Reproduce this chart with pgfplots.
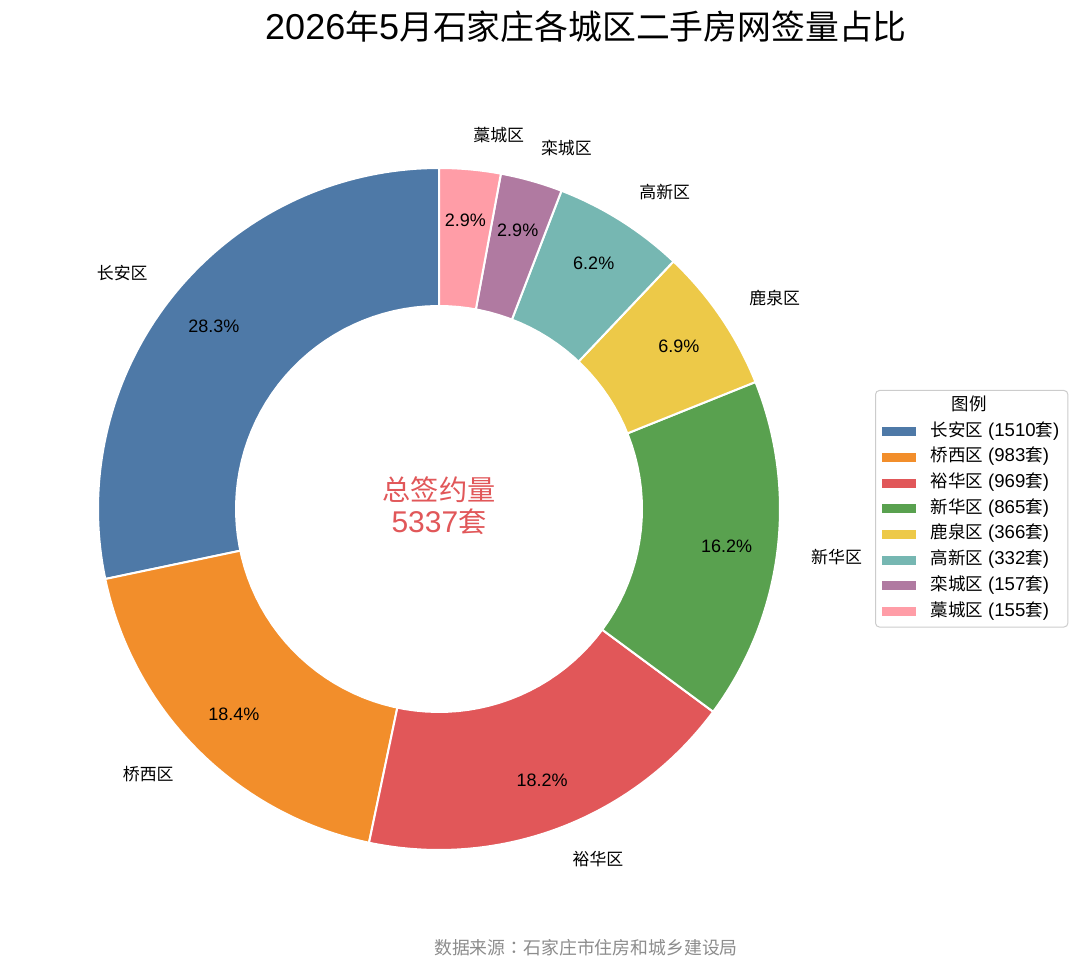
\documentclass[border=0pt]{standalone}
\usepackage{fontspec}
\setmainfont{Liberation Sans}
\newfontfamily\cjk{Noto Sans CJK SC}[Scale=0.94]
\newfontfamily\cjktc{Noto Sans CJK TC}[Scale=0.94]
\usepackage{pgfplots}
\usepackage{pgfplotstable}
\pgfplotsset{compat=1.18}

\definecolor{c0}{HTML}{4E79A7}
\definecolor{c1}{HTML}{F28E2B}
\definecolor{c2}{HTML}{E15759}
\definecolor{c3}{HTML}{59A14F}
\definecolor{c4}{HTML}{EDC948}
\definecolor{c5}{HTML}{76B7B2}
\definecolor{c6}{HTML}{B07AA1}
\definecolor{c7}{HTML}{FF9DA7}
\definecolor{legframe}{HTML}{CCCCCC}
\definecolor{srcgray}{HTML}{8C8C8C}

\pgfplotstableread[col sep=comma]{
name,value
长安区,1510
桥西区,983
裕华区,969
新华区,865
鹿泉区,366
高新区,332
栾城区,157
藁城区,155
}\districts

% ---- total
\gdef\total{0}
\foreach \i in {0,...,7}{%
  \pgfplotstablegetelem{\i}{value}\of\districts
  \pgfmathsetmacro\tmp{\total+\pgfplotsretval}%
  \xdef\total{\tmp}%
}
\pgfmathtruncatemacro\totalint{\total}
% ---- angles (start at 90 deg, counter-clockwise)
\gdef\cum{0}
\foreach \i in {0,...,7}{%
  \pgfplotstablegetelem{\i}{name}\of\districts
  \expandafter\xdef\csname nm\i\endcsname{\pgfplotsretval}%
  \pgfplotstablegetelem{\i}{value}\of\districts
  \expandafter\xdef\csname vv\i\endcsname{\pgfplotsretval}%
  \let\v\pgfplotsretval
  \pgfmathsetmacro\fS{\cum/\total}%
  \pgfmathsetmacro\fV{\v/\total}%
  \pgfmathsetmacro\aS{90+360*\fS}%
  \pgfmathsetmacro\aE{90+360*(\fS+\fV)}%
  \pgfmathsetmacro\aM{(\aS+\aE)/2}%
  \pgfmathsetmacro\pct{100*\fV}%
  \pgfmathsetmacro\newcum{\cum+\v}%
  \xdef\cum{\newcum}%
  \expandafter\xdef\csname aS\i\endcsname{\aS}%
  \expandafter\xdef\csname aE\i\endcsname{\aE}%
  \expandafter\xdef\csname aM\i\endcsname{\aM}%
  \expandafter\xdef\csname pv\i\endcsname{\pct}%
  \pgfmathtruncatemacro\side{cos(\aM)>0}%
  \ifnum\side=1
    \expandafter\xdef\csname anc\i\endcsname{west}%
  \else
    \expandafter\xdef\csname anc\i\endcsname{east}%
  \fi
}

\newcommand\basefont{\fontsize{18}{21}\selectfont}

\begin{document}
\begin{tikzpicture}
\begin{axis}[
  width=1080pt, height=972pt, scale only axis,
  xmin=0, xmax=1080, ymin=0, ymax=972,
  hide axis, clip=false,
  legend cell align=left,
  legend image code/.code={\fill[#1, draw=none, sharp corners] (0pt,-4.5pt) rectangle (34pt,4.5pt);},
  legend style={
    at={(0.8102,0.5988)}, anchor=north west,
    draw=legframe, line width=1pt, rounded corners=4pt,
    font=\fontsize{18.6}{21}\selectfont,
    inner xsep=6.5pt, inner ysep=5pt,
    row sep=4.7pt, column sep=12.5pt,
    nodes={inner sep=2pt, text height=13pt, text depth=4pt},
  },
]
% the picture area (1080 x 972)
\path (axis cs:0,0) rectangle (axis cs:1080,972);

\addlegendimage{empty legend}
\addlegendentry{\hspace{21pt}{\cjk 图例}}

\pgfplotsinvokeforeach{0,...,7}{
  \addplot[fill=c#1, draw=white, line width=2pt, line join=round, domain=0:1, samples=80]
    ({439+341*cos(\csname aS#1\endcsname+(\csname aE#1\endcsname-\csname aS#1\endcsname)*x)},
     {463+341*sin(\csname aS#1\endcsname+(\csname aE#1\endcsname-\csname aS#1\endcsname)*x)})
    -- (axis cs:439,463) -- cycle;
  \addlegendentry{{\cjk\csname nm#1\endcsname} (\csname vv#1\endcsname{\cjk 套})}
}

% inner hole of the donut
\addplot[forget plot, fill=white, draw=none, domain=0:360, samples=120]
  ({439+204*cos(x)},{463+204*sin(x)}) -- cycle;

\pgfplotsinvokeforeach{0,...,7}{
  \node[anchor=\csname anc#1\endcsname, font=\basefont\cjk, inner sep=0pt]
    at (axis cs:{439+375.1*cos(\csname aM#1\endcsname)},{463+375.1*sin(\csname aM#1\endcsname)})
    {\csname nm#1\endcsname};
  \node[font=\basefont, inner sep=0pt]
    at (axis cs:{439+290*cos(\csname aM#1\endcsname)},{463+290*sin(\csname aM#1\endcsname)})
    {\pgfmathprintnumber[fixed,fixed zerofill,precision=1,assume math mode=true]{\csname pv#1\endcsname}\%};
}

\node[align=center, text=c2, font=\fontsize{30}{32}\selectfont] at (axis cs:439,466)
  {{\cjk 总签约量}\\\totalint{\cjk 套}};

\node[font=\fontsize{36}{40}\selectfont] at (axis cs:586,945)
  {2026{\cjk 年}5{\cjk 月石家庄各城区二手房网签量占比}};

\node[font=\fontsize{19}{22}\selectfont\cjk, text=srcgray] at (axis cs:586,24)
  {数据来源{\cjktc ：}石家庄市住房和城乡建设局};
\end{axis}
\end{tikzpicture}
\end{document}
